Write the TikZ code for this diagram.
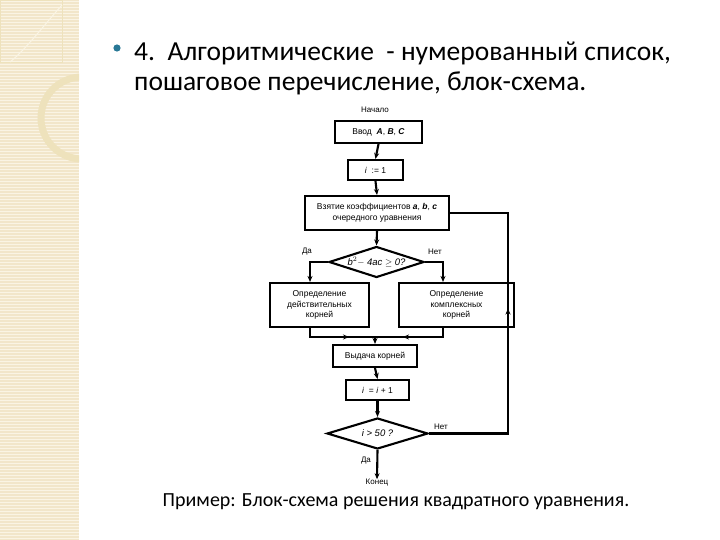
\documentclass[tikz,border=0pt]{standalone}
\usepackage{fontspec}
\setmainfont{Carlito}
\newfontfamily\chartfont{Liberation Sans}
\usetikzlibrary{shapes.geometric,arrows.meta}
\definecolor{band}{RGB}{242,230,202}
\definecolor{bandline}{RGB}{250,244,228}
\definecolor{ring}{RGB}{238,226,188}
\definecolor{bullet}{RGB}{40,120,150}
\tikzset{
  px/.style={x=1pt,y=-1pt},
  blk/.style={draw=black,line width=2.1pt,rectangle,inner sep=0pt,font=\chartfont\fontsize{8.5}{10.5}\selectfont,align=center},
  dia/.style={draw=black,line width=2.1pt,diamond,aspect=3,inner sep=0pt,font=\chartfont\itshape\fontsize{9.5}{10}\selectfont},
  lbl/.style={font=\chartfont\fontsize{8}{9}\selectfont,inner sep=0pt},
  conn/.style={line width=2.1pt,draw=black},
  arr/.style={conn,-{Stealth[length=6pt,width=5pt]}}
}
\begin{document}
\begin{tikzpicture}[px]
\useasboundingbox (0,0) rectangle (720,540);
\fill[white] (0,0) rectangle (720,540);
% left decorative band
\fill[band] (0,0) rectangle (79,540);
\foreach \yy in {1,4,...,540} { \draw[bandline,line width=0.6pt] (0,\yy) -- (79,\yy); }
\begin{scope}
\clip (0,0) rectangle (79,540);
\draw[ring,line width=0.8pt] (0,0) rectangle (62,62);
\draw[bandline,line width=1pt] (62,5) .. controls (40,30) and (25,50) .. (10,62);
\draw[ring,line width=7pt] (82,118) circle (41);
\end{scope}
% bullet and title
\fill[bullet] (117,48) circle (3.6);
\node[anchor=base west,inner sep=0pt,font=\fontsize{27.5}{30}\selectfont] (t1) at (134,61) {4.\ \ Алгоритмические \ - нумерованный список,};
\node[anchor=base west,inner sep=0pt,font=\fontsize{27.5}{30}\selectfont] (t2) at (134,91) {пошаговое перечисление, блок-схема.};
% flowchart
\node[lbl] (start) at (375,110) {Начало};
\node[blk,minimum width=87pt,minimum height=22pt] (in) at (378.5,132) {Ввод \ \textit{\textbf{A}}, \textit{\textbf{B}}, \textit{\textbf{C}}};
\node[blk,minimum width=55pt,minimum height=20pt] (i1) at (375.5,170) {\textit{i} \ := 1};
\node[blk,minimum width=144pt,minimum height=34pt] (take) at (377,213) {Взятие коэффициентов \textit{\textbf{a}}, \textit{\textbf{b}}, \textit{\textbf{c}}\\очередного уравнения};
\node[dia,minimum width=95pt,minimum height=31pt] (d1) at (376.5,262) {\textit{b}$^2 -$ 4\textit{ac} $\geq$ 0?};
\node[lbl] (da1) at (307,252) {Да};
\node[lbl] (net1) at (435,252) {Нет};
\node[blk,minimum width=99pt,minimum height=44pt] (real) at (319.5,305) {Определение\\действительных\\корней};
\node[blk,minimum width=115pt,minimum height=44pt] (cplx) at (456.5,305) {Определение\\комплексных\\корней};
\coordinate (mL) at (310,337);
\coordinate (mR) at (443,337);
\coordinate (mC) at (375,337);
\node[blk,minimum width=84pt,minimum height=22pt] (out) at (375,356) {Выдача корней};
\node[blk,minimum width=63pt,minimum height=20pt] (inc) at (377.5,390) {\textit{i} \ = \textit{i} + 1};
\node[dia,minimum width=101pt,minimum height=31pt] (d2) at (377.5,433.5) {\textit{i} > 50 ?};
\node[lbl] (net2) at (441,427) {Нет};
\node[lbl] (da2) at (366,461) {Да};
\node[lbl] (end) at (377,483) {Конец};
\coordinate (back) at (508,433.5);
% connectors
\draw[arr] (in.south) -- (i1.north);
\draw[arr] (i1.south) -- (take.north);
\draw[arr] (take.south) -- (d1.north);
\draw[arr] (d1.west) -| (real.north -| mL);
\draw[arr] (d1.east) -| (cplx.north -| mR);
\draw[conn] (real.south -| mL) -- (mL) -- (mR) -- (cplx.south -| mR);
\draw[arr] (mL) -- ([xshift=-26pt]mC);
\draw[arr] (mR) -- ([xshift=28pt]mC);
\draw[arr] (mC) -- (out.north);
\draw[arr] (out.south) -- (inc.north);
\draw[arr] (inc.south) -- (d2.north);
\draw[conn] (d2.east) -- (back) -- (back |- take.east) -- (take.east);
\draw[arr] (back) -- ([yshift=125pt]back);
\draw[arr] (d2.south) -- (end.north);
% caption
\node[anchor=base,inner sep=0pt,font=\fontsize{20}{24}\selectfont] (cap) at (396,506) {Пример: Блок-схема решения квадратного уравнения.};
\end{tikzpicture}
\end{document}
